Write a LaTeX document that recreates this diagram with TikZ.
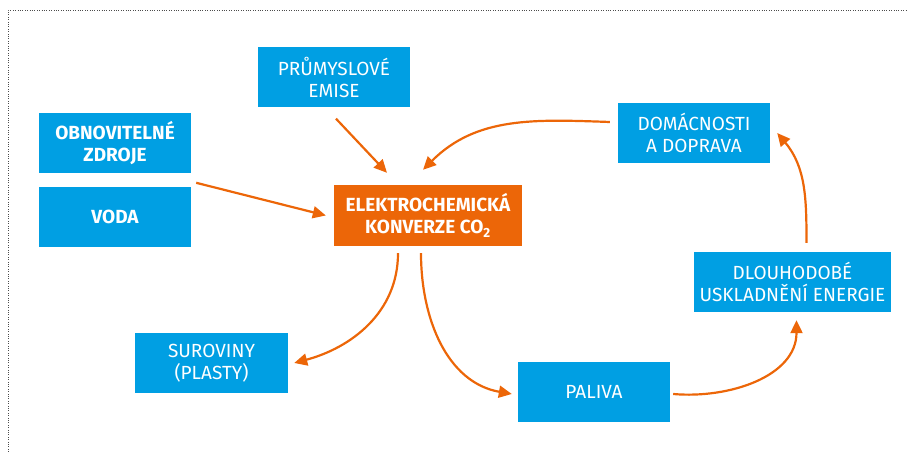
\documentclass[tikz,border=0pt]{standalone}
\usepackage{fontspec}
\setmainfont{Fira Sans}
\usetikzlibrary{arrows.meta}
\definecolor{cblue}{RGB}{0,159,227}
\definecolor{corange}{RGB}{236,102,8}
\tikzstyle{flow} = [corange, line width=2.2pt, -{Triangle[length=13pt,width=12pt]}]
\tikzstyle{box} = [fill=cblue, text=white, align=center, minimum width=152pt, minimum height=60pt, inner sep=0pt, font=\fontsize{19}{22}\selectfont]
\tikzstyle{boldbox} = [box, font=\fontsize{19}{22}\selectfont\bfseries]

\begin{document}
\begin{tikzpicture}[x=1pt, y=1pt, every node/.style={box}]
        \useasboundingbox (0,0) rectangle (907,454);
        \draw[dotted, black!70] (8,0) -- (8,444) -- (907,444);

        % Node positions
        \node[boldbox] (zdroje) at (115,311) {OBNOVITELNÉ\\ZDROJE};
        \node[boldbox] (voda) at (115,237) {VODA};
        \node (emise) at (334,376.5) {PRŮMYSLOVÉ\\EMISE};
        \node[boldbox, fill=corange, minimum width=188pt, minimum height=61pt] (konverze) at (428,238.5) {ELEKTROCHEMICKÁ\\KONVERZE CO\textsubscript{2}};
        \node (domacnosti) at (694,321) {DOMÁCNOSTI\\A DOPRAVA};
        \node[minimum width=197pt] (uskladneni) at (792.5,172) {DLOUHODOBÉ\\USKLADNĚNÍ ENERGIE};
        \node[minimum width=153pt] (suroviny) at (211.5,91) {SUROVINY\\(PLASTY)};
        \node (paliva) at (594,62) {PALIVA};

        \draw[flow] ([xshift=5pt,yshift=4pt]voda.north east) -- ([xshift=-8pt]konverze.west);
        \draw[flow] ([xshift=2pt,yshift=-11pt]emise.south) -- ([xshift=-41pt,yshift=12pt]konverze.north);
        \draw[flow] ([xshift=-8pt,yshift=11pt]domacnosti.west) to[out=178, in=45] ([xshift=-5pt,yshift=15pt]konverze.north);
        \draw[flow] ([xshift=-30pt,yshift=-7pt]konverze.south) to[out=-90, in=15] ([xshift=6pt]suroviny.east);
        \draw[flow] ([xshift=-7pt,yshift=-7pt]konverze.south) to[out=-90, in=170] ([xshift=-6pt,yshift=-2pt]paliva.west);
        \draw[flow] ([xshift=3pt,yshift=-2pt]paliva.east) to[out=-5, in=-90] ([xshift=4pt,yshift=-8pt]uskladneni.south);
        \draw[flow] ([xshift=14pt,yshift=9pt]uskladneni.north) to[out=90, in=-50] ([xshift=7pt]domacnosti.east);
      \end{tikzpicture}
\end{document}
